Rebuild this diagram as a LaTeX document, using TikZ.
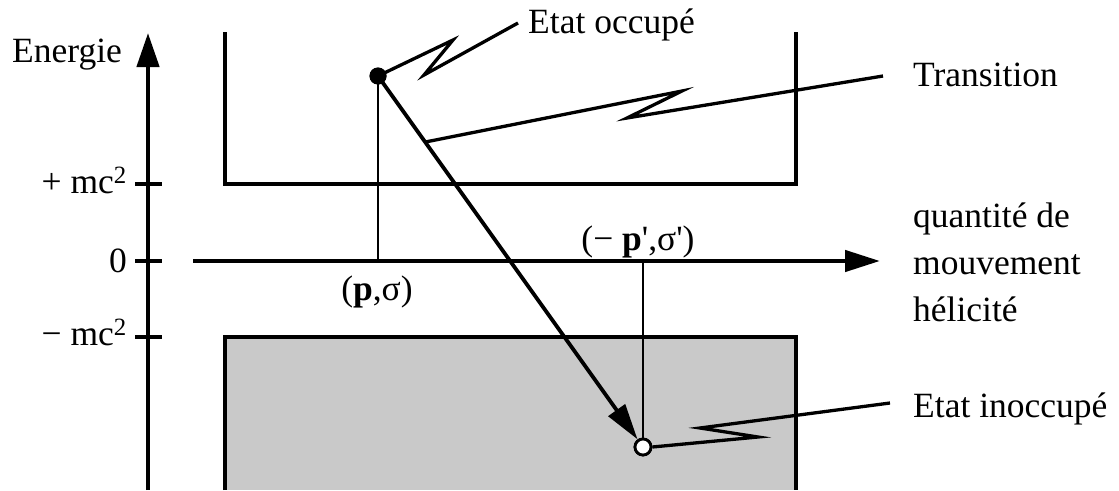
\documentclass[tikz,border=0pt]{standalone}
\usepackage{fontspec}
\setmainfont{Liberation Serif}
\usetikzlibrary{arrows.meta,calc}
\begin{document}
\begin{tikzpicture}[x=1pt,y=-1pt,
  font=\fontsize{35.5}{47}\selectfont,
  axisline/.style={line width=4.5pt},
  boxline/.style={line width=4pt},
  leader/.style={line width=3.3pt, line join=miter, miter limit=20},
  thinline/.style={line width=2.8pt},
  arrowline/.style={line width=3.8pt},
  occstate/.style={circle, fill=black, minimum size=17pt, inner sep=0pt},
  freestate/.style={circle, draw, fill=white, line width=2.8pt, minimum size=16pt, inner sep=0pt},
  lbl/.style={inner sep=0pt}]
\useasboundingbox (0,0) rectangle (1119,490);
% lower (filled) band
\fill[black!21] (225,337) rectangle (796,490);
\draw[boxline] (225,490) -- (225,337) -- (796,337) -- (796,490);
% upper band
\draw[boxline] (225,32) -- (225,184) -- (796,184) -- (796,32);
% axes
\coordinate (ybot) at (148,490);
\coordinate (ytop) at (148,33);
\draw[axisline, -{Triangle[length=34pt,width=22pt]}] (ybot) -- (ytop);
\coordinate (xl) at (193,261);
\coordinate (xr) at (880,261);
\draw[axisline, -{Triangle[length=35pt,width=21pt]}] (xl) -- (xr);
% ticks
\draw[axisline] (135,184) -- (162,184);
\draw[axisline] (135,261) -- (162,261);
\draw[axisline] (135,337) -- (162,337);
% axis labels
\node[lbl, anchor=base west] (energie) at (12,62) {Energie};
\node[lbl, anchor=base east] (plus) at (127,193) {+ mc\textsuperscript{2}};
\node[lbl, anchor=base east] (zero) at (127,272) {0};
\node[lbl, anchor=base east] (minus) at (127,345) {− mc\textsuperscript{2}};
\node[lbl, anchor=west, align=left] (qty) at (913,262) {quantité de\\mouvement\\hélicité};
% states
\coordinate (p0) at (378,261);
\coordinate (q0) at (643,261);
\node[occstate] (occ) at (378,76) {};
\node[freestate] (unocc) at (643,447) {};
\draw[thinline] (occ.center) -- (p0);
\draw[thinline] (q0) -- (unocc);
\draw[arrowline, -{Triangle[length=36pt,width=20pt]}] (occ.center) -- (unocc);
\node[occstate] at (occ) {};
\node[freestate] at (unocc) {};
\node[lbl, anchor=base] (plab) at (377,300) {(\textbf{p},σ)};
\node[lbl, anchor=base] (qlab) at (638,250) {(− \textbf{p}\textquotesingle,σ\textquotesingle)};
% leaders and labels
\node[lbl, anchor=base west] (occtxt) at (528,33) {Etat occupé};
\coordinate (occend) at (518,23);
\draw[leader] (occ.center) -- (453,40) -- (424,75) -- (occend);
\node[lbl, anchor=base west] (trtxt) at (913,86) {Transition};
\coordinate (trstart) at ($(occ.center)!0.178!(unocc.center)$);
\coordinate (trend) at (883,76);
\draw[leader] (trstart) -- (682,91) -- (627,118) -- (trend);
\node[lbl, anchor=base west] (freetxt) at (913,417) {Etat inoccupé};
\coordinate (freeend) at (890,403);
\draw[leader] (unocc.east) -- (758,437) -- (700,428) -- (freeend);
\end{tikzpicture}
\end{document}
